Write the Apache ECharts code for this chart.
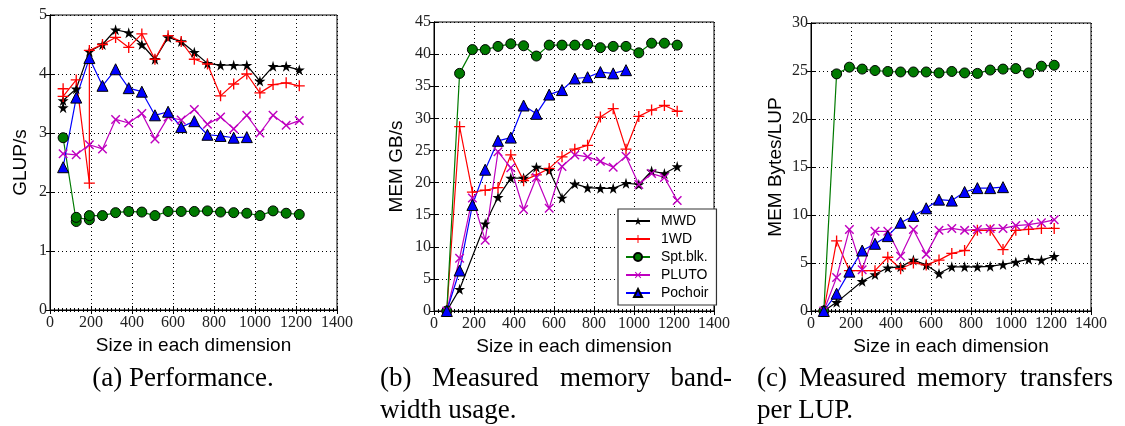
<!DOCTYPE html>
<html>
<head>
<meta charset="utf-8">
<script src="https://cdn.jsdelivr.net/npm/echarts@6/dist/echarts.min.js"></script>
<style>html,body{margin:0;padding:0;background:#fff;}#c{width:1125px;height:426px;}</style>
</head>
<body>
<div id="c"></div>
<script>
// ---------- data ----------
const seriesNames = ['MWD', '1WD', 'Spt.blk.', 'PLUTO', 'Pochoir'];
const sizes = [64,128,192,256,320,384,448,512,576,640,704,768,832,896,960,1024,1088,1152,1216];
const sizesNo192 = [64,128,256,320,384,448,512,576,640,704,768,832,896,960,1024,1088,1152,1216];
const sizesPochoir = [64,128,192,256,320,384,448,512,576,640,704,768,832,896,960];

// (a) Performance, GLUP/s
const perfMWDSizes = [64,64,128,192,256,320,384,448,512,576,640,704,768,832,896,960,1024,1088,1152,1216];
const perfMWD = [3.43,3.55,3.75,4.38,4.5,4.75,4.7,4.5,4.25,4.62,4.55,4.37,4.18,4.15,4.15,4.15,3.88,4.13,4.13,4.07];
const perf1WDSizes = [64,64,128,192,192,256,320,384,448,512,576,640,704,768,832,896,960,1024,1088,1152,1216];
const perf1WD = [3.75,3.62,3.9,2.15,4.4,4.5,4.62,4.45,4.68,4.25,4.65,4.55,4.25,4.17,3.63,3.83,4.0,3.68,3.82,3.85,3.8];
const perfSptSizes = [64,128,128,192,192,256,320,384,448,512,576,640,704,768,832,896,960,1024,1088,1152,1216];
const perfSpt = [2.92,1.5,1.57,1.53,1.6,1.6,1.65,1.67,1.66,1.6,1.67,1.67,1.67,1.68,1.66,1.65,1.64,1.6,1.68,1.64,1.62];
const perfPLUTO = [2.65,2.63,2.8,2.73,3.23,3.17,3.33,2.9,3.27,3.22,3.4,3.15,3.27,3.07,3.3,3.0,3.3,3.13,3.21];
const perfPochoir = [2.42,3.6,4.27,3.8,4.08,3.76,3.7,3.3,3.36,3.1,3.2,2.97,2.95,2.92,2.93];

// (b) Measured memory bandwidth, MEM GB/s
const bwMWD = [0,3.4,13.6,17.7,20.7,20.7,22.4,21.9,17.6,19.8,19.2,19.1,19.1,19.9,19.7,21.8,21.4,22.5];
const bw1WD = [0,28.7,18.5,18.8,19.2,24.3,20.3,21.2,22.2,24.0,25.2,25.8,30.2,31.5,25.2,30.3,31.3,32.0,31.1];
const bwSpt = [0,37.0,40.7,40.7,41.2,41.6,41.3,39.7,41.4,41.4,41.4,41.5,41.0,41.2,41.2,40.2,41.7,41.7,41.4];
const bwPLUTO = [0,8.2,17.6,11.0,24.8,22.3,15.8,20.8,16.0,22.5,24.3,24.0,23.3,22.4,24.1,19.7,21.4,20.8,17.2];
const bwPochoir = [0,6.3,16.5,22.0,26.5,27.0,32.0,30.7,33.7,34.4,36.2,36.4,37.2,37.0,37.5];

// (c) Measured memory transfers per LUP, MEM Bytes/LUP
const trMWD = [0,0.9,3.1,3.8,4.5,4.6,5.3,4.8,3.9,4.6,4.6,4.6,4.65,4.85,5.1,5.4,5.3,5.7];
const tr1WD = [0,7.3,4.2,4.2,4.2,5.6,4.4,5.0,4.8,5.3,6.0,6.3,8.4,8.4,6.4,8.4,8.5,8.6,8.6];
const trSpt = [0,24.7,25.4,25.2,25.05,24.95,24.9,24.9,24.9,24.8,24.95,24.8,24.75,25.1,25.2,25.25,24.8,25.5,25.6];
const trPLUTO = [0,3.5,8.5,4.3,8.3,8.3,5.7,8.5,5.9,8.4,8.6,8.4,8.5,8.6,8.6,8.9,9.0,9.2,9.5];
const trPochoir = [0,1.8,4.1,6.3,7.0,7.8,9.2,9.9,10.7,11.6,11.5,12.4,12.8,12.8,12.9];

// ---------- styling ----------
const zip = (xs, ys) => ys.map((y, i) => [xs[i], y]);
const STAR = 'path://M50,0 L61,35 L98,35 L68,57 L79,91 L50,70 L21,91 L32,57 L2,35 L39,35 Z';
const PLUS = 'path://M44,0H56V44H100V56H56V100H44V56H0V44H44Z';
const styles = {
  'MWD':     {color:'#000000', symbol: STAR, size: 11, border: null},
  '1WD':     {color:'#ff0000', symbol: PLUS, size: 11, border: null},
  'Spt.blk.':{color:'#007a00', symbol: 'circle', size: 10, border: '#000'},
  'PLUTO':   {color:'#bf00bf', symbol: PLUS, size: 12, border: null, rotate: 45},
  'Pochoir': {color:'#0000ff', symbol: 'triangle', size: 11, border: '#000'}
};
function mk(name, gi, data) {
  const s = styles[name];
  return {
    name, type: 'line', xAxisIndex: gi * 2, yAxisIndex: gi * 2, data,
    symbol: s.symbol, symbolSize: s.size, symbolRotate: s.rotate || 0,
    showSymbol: true, animation: false,
    lineStyle: {color: s.color, width: 1.2},
    itemStyle: {color: s.color, borderColor: s.border || s.color, borderWidth: s.border ? 1 : 0}
  };
}

const grids = [
  {left: 50, top: 15, width: 287, height: 295},
  {left: 434, top: 22, width: 280, height: 289},
  {left: 811, top: 23, width: 280, height: 288}
];
const yCfg = [
  {max: 5, interval: 1, name: 'GLUP/s', gap: 20},
  {max: 45, interval: 5, name: 'MEM GB/s', gap: 28},
  {max: 30, interval: 5, name: 'MEM Bytes/LUP', gap: 26}
];
const serif = 'Liberation Serif';
const sans = 'Liberation Sans';
const plain = v => String(v);

const xAxes = [], yAxes = [];
grids.forEach((g, i) => {
  xAxes.push({
    type: 'value', gridIndex: i, min: 0, max: 1400, interval: 200,
    name: 'Size in each dimension', nameLocation: 'middle', nameGap: 23,
    nameTextStyle: {fontFamily: sans, fontSize: 19, color: '#000'},
    axisLine: {show: true, lineStyle: {color: '#000', width: 1}},
    axisTick: {show: true, inside: true, length: 4, lineStyle: {color: '#000'}},
    minorTick: {show: true, splitNumber: 10, length: 2, lineStyle: {color: '#000'}},
    axisLabel: {fontFamily: serif, fontSize: 16, color: '#222', margin: 5, formatter: plain},
    splitLine: {show: true, lineStyle: {color: '#000', type: [1, 3], width: 1}}
  });
  xAxes.push({
    type: 'value', gridIndex: i, min: 0, max: 1400, interval: 200, position: 'top',
    axisLine: {show: true, lineStyle: {color: '#000'}},
    axisTick: {show: true, inside: true, length: 4, lineStyle: {color: '#000'}},
    minorTick: {show: true, splitNumber: 10, length: 2, lineStyle: {color: '#000'}},
    axisLabel: {show: false}, splitLine: {show: false}
  });
  const y = yCfg[i];
  yAxes.push({
    type: 'value', gridIndex: i, min: 0, max: y.max, interval: y.interval,
    name: y.name, nameLocation: 'middle', nameGap: y.gap, nameRotate: 90,
    nameTextStyle: {fontFamily: sans, fontSize: 19, color: '#000'},
    axisLine: {show: true, lineStyle: {color: '#000'}},
    axisTick: {show: true, inside: true, length: 4, lineStyle: {color: '#000'}},
    axisLabel: {fontFamily: serif, fontSize: 16, color: '#222', margin: 3, formatter: plain},
    splitLine: {show: true, lineStyle: {color: '#000', type: [1, 3], width: 1}}
  });
  yAxes.push({
    type: 'value', gridIndex: i, min: 0, max: y.max, interval: y.interval, position: 'right',
    axisLine: {show: true, lineStyle: {color: '#000'}},
    axisTick: {show: true, inside: true, length: 4, lineStyle: {color: '#000'}},
    axisLabel: {show: false}, splitLine: {show: false}
  });
});

const series = [
  mk('MWD', 0, zip(perfMWDSizes, perfMWD)),
  mk('1WD', 0, zip(perf1WDSizes, perf1WD)),
  mk('Spt.blk.', 0, zip(perfSptSizes, perfSpt)),
  mk('PLUTO', 0, zip(sizes, perfPLUTO)),
  mk('Pochoir', 0, zip(sizesPochoir, perfPochoir)),
  mk('MWD', 1, zip(sizesNo192, bwMWD)),
  mk('1WD', 1, zip(sizes, bw1WD)),
  mk('Spt.blk.', 1, zip(sizes, bwSpt)),
  mk('PLUTO', 1, zip(sizes, bwPLUTO)),
  mk('Pochoir', 1, zip(sizesPochoir, bwPochoir)),
  mk('MWD', 2, zip(sizesNo192, trMWD)),
  mk('1WD', 2, zip(sizes, tr1WD)),
  mk('Spt.blk.', 2, zip(sizes, trSpt)),
  mk('PLUTO', 2, zip(sizes, trPLUTO)),
  mk('Pochoir', 2, zip(sizesPochoir, trPochoir))
];

const capFont = '27px "Liberation Serif"';
function cap(text, x, y, align) {
  return {type: 'text', x, y, style: {text, font: capFont, fill: '#000', textAlign: align || 'left', textVerticalAlign: 'middle'}};
}

const chart = echarts.init(document.getElementById('c'), null, {renderer: 'canvas'});
chart.setOption({
  animation: false,
  backgroundColor: '#fff',
  grid: grids.map(g => Object.assign({show: true, borderColor: '#000', borderWidth: 1, backgroundColor: 'transparent', containLabel: false}, g)),
  xAxis: xAxes,
  yAxis: yAxes,
  legend: {
    data: seriesNames, orient: 'vertical', left: 618, top: 209,
    itemWidth: 24, itemHeight: 10, itemGap: 4,
    padding: [5, 8, 5, 7],
    backgroundColor: '#fff', borderColor: '#333', borderWidth: 1.2,
    textStyle: {fontFamily: sans, fontSize: 14, color: '#000', padding: [0, 0, 0, 6]},
    selectedMode: false
  },
  series,
  graphic: [
    cap('(a) Performance.', 183, 379, 'center'),
    cap('(b)', 380, 379), cap('Measured', 432, 379), cap('memory', 560, 379), cap('band-', 732, 379, 'right'),
    cap('width usage.', 380, 411),
    cap('(c)', 757, 379), cap('Measured', 799, 379), cap('memory', 917, 379), cap('transfers', 1113, 379, 'right'),
    cap('per LUP.', 757, 411)
  ]
});
</script>
</body>
</html>
